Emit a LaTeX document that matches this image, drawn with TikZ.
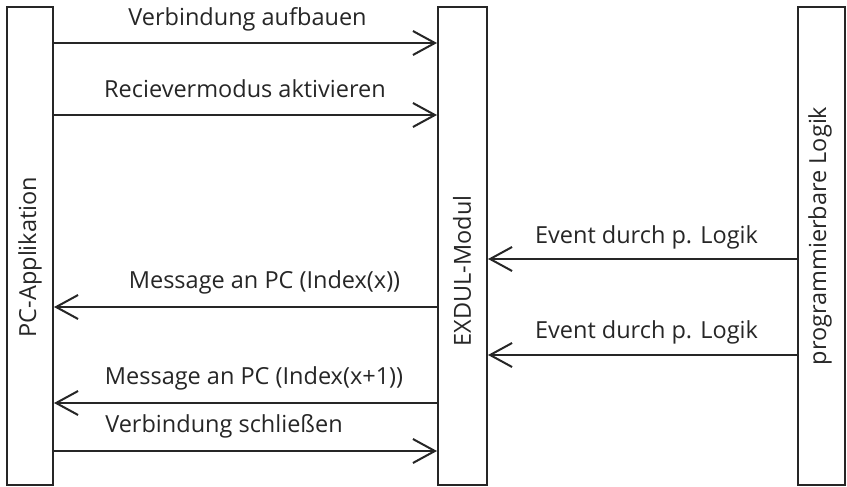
\documentclass[tikz,border=0pt]{standalone}
\usepackage{fontspec}
\setmainfont{Open Sans}
\usetikzlibrary{arrows.meta}
\begin{document}
\begin{tikzpicture}[x=1pt,y=-1pt,
  bar/.style={draw=black!85,line width=2pt,minimum width=#1,minimum height=478pt,inner sep=0pt},
  msg/.style={draw=black!85,line width=2pt,-{Straight Barb[length=22pt,width=24pt]}},
  lbl/.style={anchor=base,inner sep=0pt,font=\fontsize{23.5}{26}\selectfont,text=black!85},
  vlbl/.style={rotate=90,inner sep=0pt,font=\fontsize{23.5}{26}\selectfont,text=black!85}]
\useasboundingbox (0,0) rectangle (847,487);
\node[bar=46pt] (pc) at (30,246) {};
\node[bar=49pt] (mod) at (462.5,246) {};
\node[bar=47pt] (lg) at (821.5,246) {};
\node[vlbl] (tpc) at (30,257) {PC-Applikation};
\node[vlbl] (tmod) at (462,271) {EXDUL-Modul};
\node[vlbl] (tlg) at (820,236) {programmierbare Logik};
\draw[msg] (pc.east |- 0,43) -- (mod.west |- 0,43);
\draw[msg] (pc.east |- 0,115) -- (mod.west |- 0,115);
\draw[msg] (lg.west |- 0,259) -- (mod.east |- 0,259);
\draw[msg] (mod.west |- 0,307) -- (pc.east |- 0,307);
\draw[msg] (lg.west |- 0,355) -- (mod.east |- 0,355);
\draw[msg] (mod.west |- 0,403) -- (pc.east |- 0,403);
\draw[msg] (pc.east |- 0,451) -- (mod.west |- 0,451);
\node[lbl] (l1) at (247.5,26) {Verbindung aufbauen};
\node[lbl] (l2) at (245,98) {Recievermodus aktivieren};
\node[lbl] (l3) at (646.5,243) {Event durch p. Logik};
\node[lbl] (l4) at (264.5,288) {Message an PC (Index(x))};
\node[lbl] (l5) at (646.5,338) {Event durch p. Logik};
\node[lbl] (l6) at (254,384) {Message an PC (Index(x+1))};
\node[lbl] (l7) at (224,432) {Verbindung schließen};
\end{tikzpicture}
\end{document}
